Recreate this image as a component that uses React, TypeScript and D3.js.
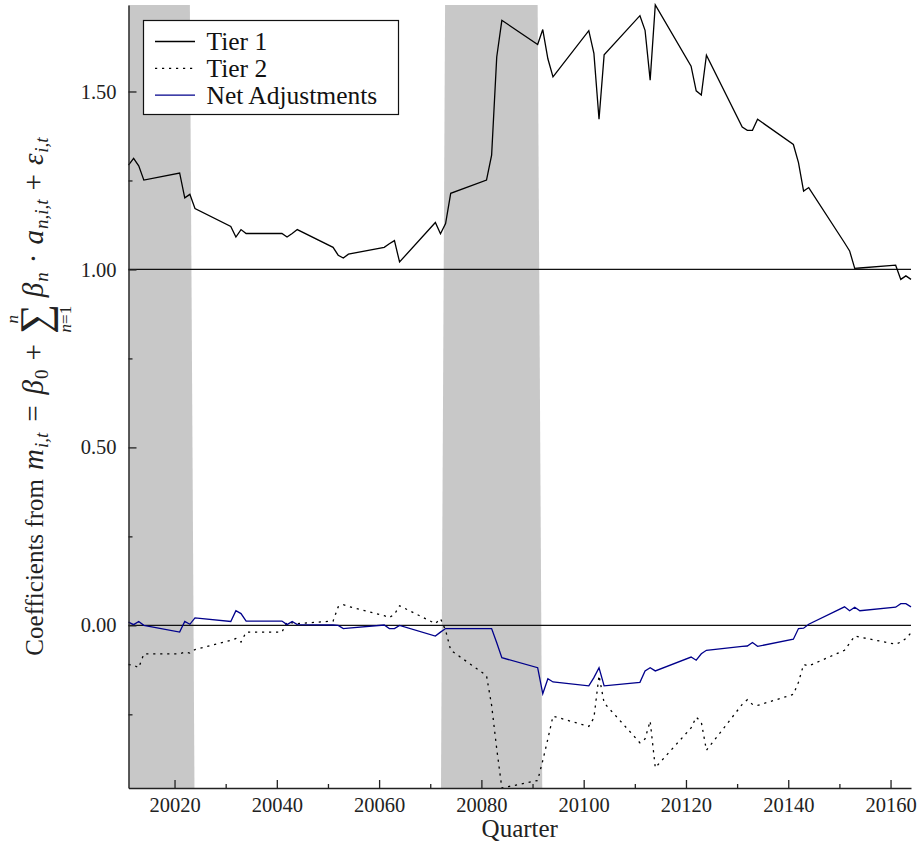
import React, { useEffect, useRef } from "react";
import * as d3 from "d3";

// quarter codes (yyyyq)
const quarters = [
  20011, 20012, 20013, 20014, 20021, 20022, 20023, 20024,
  20031, 20032, 20033, 20034, 20041, 20042, 20043, 20044,
  20051, 20052, 20053, 20054, 20061, 20062, 20063, 20064,
  20071, 20072, 20073, 20074, 20081, 20082, 20083, 20084,
  20091, 20092, 20093, 20094, 20101, 20102, 20103, 20104,
  20111, 20112, 20113, 20114, 20121, 20122, 20123, 20124,
  20131, 20132, 20133, 20134, 20141, 20142, 20143, 20144,
  20151, 20152, 20153, 20154, 20161, 20162, 20163, 20164,
];

const tier1 = [
  1.293, 1.312, 1.291, 1.251, 1.271, 1.201, 1.211, 1.171,
  1.121, 1.091, 1.112, 1.101, 1.101, 1.091, 1.101, 1.112,
  1.062, 1.040, 1.032, 1.043, 1.062, 1.072, 1.081, 1.021,
  1.132, 1.100, 1.129, 1.214, 1.251, 1.321, 1.597, 1.700,
  1.632, 1.674, 1.592, 1.541, 1.671, 1.607, 1.422, 1.603,
  1.713, 1.672, 1.532, 1.743, 1.571, 1.502, 1.490, 1.602,
  1.400, 1.391, 1.391, 1.422, 1.351, 1.300, 1.220, 1.230,
  1.075, 1.052, 1.003, 1.004, 1.012, 0.972, 0.982, 0.972,
];

const tier2 = [
  -0.110, -0.112, -0.119, -0.080, -0.080, -0.075, -0.078, -0.068,
  -0.042, -0.037, -0.047, -0.019, -0.019, 0.009, 0.007, 0.005,
  0.012, 0.052, 0.058, 0.053, 0.027, 0.022, 0.031, 0.055,
  0.005, 0.019, -0.014, -0.070, -0.141, -0.225, -0.347, -0.457,
  -0.436, -0.380, -0.319, -0.255, -0.284, -0.260, -0.141, -0.218,
  -0.330, -0.319, -0.269, -0.400, -0.288, -0.258, -0.272, -0.351,
  -0.222, -0.209, -0.222, -0.225, -0.194, -0.160, -0.110, -0.114,
  -0.070, -0.050, -0.030, -0.033, -0.053, -0.047, -0.037, -0.021,
];

const netAdjustments = [
  0.009, 0.002, 0.011, 0.000, -0.019, 0.011, 0.003, 0.021,
  0.011, 0.041, 0.033, 0.012, 0.012, 0.002, 0.011, 0.002,
  0.001, 0.000, -0.009, -0.008, 0.001, -0.009, -0.009, 0.000,
  -0.030, -0.019, -0.009, -0.009, -0.009, -0.009, -0.049, -0.091,
  -0.119, -0.192, -0.150, -0.159, -0.170, -0.147, -0.119, -0.170,
  -0.160, -0.128, -0.119, -0.128, -0.089, -0.098, -0.080, -0.070,
  -0.059, -0.058, -0.048, -0.059, -0.039, -0.009, -0.008, 0.003,
  0.052, 0.041, 0.051, 0.041, 0.051, 0.061, 0.061, 0.052,
];

const seriesNames = ["Tier 1", "Tier 2", "Net Adjustments"];

const yTicksMajor = [0, 0.5, 1, 1.5];
const yTicksMinor = [-0.25, 0.25, 0.75, 1.25];
const xTicksMajor = [20020, 20040, 20060, 20080, 20100, 20120, 20140, 20160];
const xTicksMinor = [20030, 20050, 20070, 20090, 20110, 20130, 20150];
const referenceLines = [0, 1];

// shaded periods, edges at the top and at the bottom of the plot
const bandTop = [[20011, 20023.0], [20072.9, 20091.0]];
const bandBottom = [[20011, 20023.9], [20072.1, 20091.9]];

const W = 918;
const H = 846;
const margin = { top: 5, right: 7, bottom: 58, left: 128.5 };
const FONT = "'Liberation Serif', 'DejaVu Serif', serif";

const App: React.FC = () => {
  const ref = useRef<SVGSVGElement>(null);

  useEffect(() => {
    if (!ref.current) return;
    const svg = d3.select(ref.current);
    svg.selectAll("*").remove();

    const x = d3
      .scaleLinear()
      .domain(d3.extent(quarters) as [number, number])
      .range([margin.left, W - margin.right]);

    const y = d3
      .scaleLinear()
      .domain(d3.extent([...tier1, ...tier2, ...netAdjustments]) as [number, number])
      .range([H - margin.bottom, margin.top]);

    const [y0, y1] = y.range();

    // shaded bands
    svg
      .append("g")
      .selectAll("polygon")
      .data(bandTop.map((t, i) => ({ top: t, bottom: bandBottom[i] })))
      .enter()
      .append("polygon")
      .attr("points", (d) =>
        [
          [x(d.top[0]), y1],
          [x(d.top[1]), y1],
          [x(d.bottom[1]), y0],
          [x(d.bottom[0]), y0],
        ]
          .map((p) => p.join(","))
          .join(" ")
      )
      .attr("fill", "#c8c8c8");

    // reference lines at 0 and 1
    svg
      .append("g")
      .selectAll("line")
      .data(referenceLines)
      .enter()
      .append("line")
      .attr("x1", x.range()[0])
      .attr("x2", x.range()[1])
      .attr("y1", (d) => y(d))
      .attr("y2", (d) => y(d))
      .attr("stroke", "#111")
      .attr("stroke-width", 1.3);

    const line = d3
      .line<number>()
      .x((_, i) => x(quarters[i]))
      .y((d) => y(d));

    const styles = [
      { data: tier1, color: "#000", dash: null as string | null },
      { data: tier2, color: "#000", dash: "2.2,4.8" },
      { data: netAdjustments, color: "#00008b", dash: null },
    ];

    styles.forEach((s) => {
      svg
        .append("path")
        .datum(s.data)
        .attr("fill", "none")
        .attr("stroke", s.color)
        .attr("stroke-width", 1.3)
        .attr("stroke-dasharray", s.dash)
        .attr("d", line);
    });

    // axes
    const yAxis = svg
      .append("g")
      .attr("transform", `translate(${margin.left},0)`)
      .call(
        d3
          .axisLeft(y)
          .tickValues(yTicksMajor)
          .tickSizeInner(-8)
          .tickSizeOuter(0)
          .tickPadding(12)
          .tickFormat(d3.format(".2f"))
      );
    svg
      .append("g")
      .attr("transform", `translate(${margin.left},0)`)
      .call(d3.axisLeft(y).tickValues(yTicksMinor).tickSizeInner(-4).tickSizeOuter(0).tickFormat(() => ""))
      .call((g) => g.select(".domain").remove());

    const xAxis = svg
      .append("g")
      .attr("transform", `translate(0,${y0})`)
      .call(
        d3
          .axisBottom(x)
          .tickValues(xTicksMajor)
          .tickSizeInner(-8)
          .tickSizeOuter(0)
          .tickPadding(9.5)
          .tickFormat(d3.format("d"))
      );
    svg
      .append("g")
      .attr("transform", `translate(0,${y0})`)
      .call(d3.axisBottom(x).tickValues(xTicksMinor).tickSizeInner(-4).tickSizeOuter(0).tickFormat(() => ""))
      .call((g) => g.select(".domain").remove());

    svg.selectAll(".domain").attr("stroke", "#222").attr("stroke-width", 1.4);
    svg.selectAll(".tick line").attr("stroke", "#222").attr("stroke-width", 1.3);
    [yAxis, xAxis].forEach((a) =>
      a
        .attr("font-family", FONT)
        .selectAll("text")
        .attr("font-family", FONT)
        .attr("font-size", 20.5)
        .attr("fill", "#222")
    );

    // x label
    svg
      .append("text")
      .attr("x", (x.range()[0] + x.range()[1]) / 2)
      .attr("y", 837)
      .attr("text-anchor", "middle")
      .attr("font-family", FONT)
      .attr("font-size", 25)
      .attr("fill", "#222")
      .text("Quarter");

    // y label, laid out piece by piece
    const lab = svg.append("g").attr("font-family", FONT).attr("fill", "#222");
    let cx = 0;
    const piece = (
      txt: string,
      o: { size?: number; italic?: boolean; dy?: number } = {}
    ) => {
      const t = lab
        .append("text")
        .attr("x", cx)
        .attr("y", o.dy ?? 0)
        .attr("font-size", o.size ?? 25)
        .attr("font-style", o.italic ? "italic" : "normal")
        .text(txt);
      const w = (t.node() as SVGTextElement).getComputedTextLength();
      cx += w;
      return w;
    };
    const gap = (g: number) => (cx += g);
    const M = 29;
    const S = 19;

    piece("Coefficients from");
    gap(9);
    piece("m", { italic: true, size: M });
    gap(1);
    piece("i,t", { italic: true, size: S, dy: 5 });
    gap(11);
    piece("=", { size: M });
    gap(11);
    piece("β", { italic: true, size: M });
    gap(1);
    piece("0", { size: S, dy: 5 });
    gap(9);
    piece("+", { size: M });
    gap(10);
    const sStart = cx;
    const sw = piece("∑", { size: 42, dy: 6 });
    const sMid = sStart + sw / 2;
    lab
      .append("text")
      .attr("x", sMid)
      .attr("y", -25)
      .attr("text-anchor", "middle")
      .attr("font-size", 17)
      .attr("font-style", "italic")
      .text("n");
    const low = lab
      .append("text")
      .attr("x", sMid)
      .attr("y", 28)
      .attr("text-anchor", "middle")
      .attr("font-size", 17);
    low.append("tspan").attr("font-style", "italic").text("n");
    low.append("tspan").text("=1");
    gap(7);
    piece("β", { italic: true, size: M });
    gap(1);
    piece("n", { italic: true, size: S, dy: 5 });
    gap(9);
    piece("·", { size: M });
    gap(9);
    piece("a", { italic: true, size: M });
    gap(1);
    piece("n,i,t", { italic: true, size: S, dy: 5 });
    gap(9);
    piece("+", { size: M });
    gap(9);
    piece("ε", { italic: true, size: M });
    gap(1);
    piece("i,t", { italic: true, size: S, dy: 5 });

    const cy = (y0 + y1) / 2;
    lab.attr("transform", `translate(43,${cy + cx / 2}) rotate(-90)`);

    // legend
    const legend = svg.append("g").attr("transform", "translate(143.5,20.5)");
    legend
      .append("rect")
      .attr("width", 255)
      .attr("height", 94)
      .attr("fill", "white")
      .attr("stroke", "#111")
      .attr("stroke-width", 1.2);
    seriesNames.forEach((name, i) => {
      const ry = 21 + i * 26.8;
      legend
        .append("line")
        .attr("x1", 11.5)
        .attr("x2", 51.5)
        .attr("y1", ry)
        .attr("y2", ry)
        .attr("stroke", styles[i].color)
        .attr("stroke-width", 1.3)
        .attr("stroke-dasharray", styles[i].dash);
      legend
        .append("text")
        .attr("x", 63)
        .attr("y", ry)
        .attr("dy", "0.33em")
        .attr("font-family", FONT)
        .attr("font-size", 25.5)
        .attr("fill", "#111")
        .text(name);
    });
  }, []);

  return (
    <svg
      ref={ref}
      width={W}
      height={H}
      style={{ position: "absolute", left: 0, top: 0, background: "white", display: "block" }}
    />
  );
};

export default App;
